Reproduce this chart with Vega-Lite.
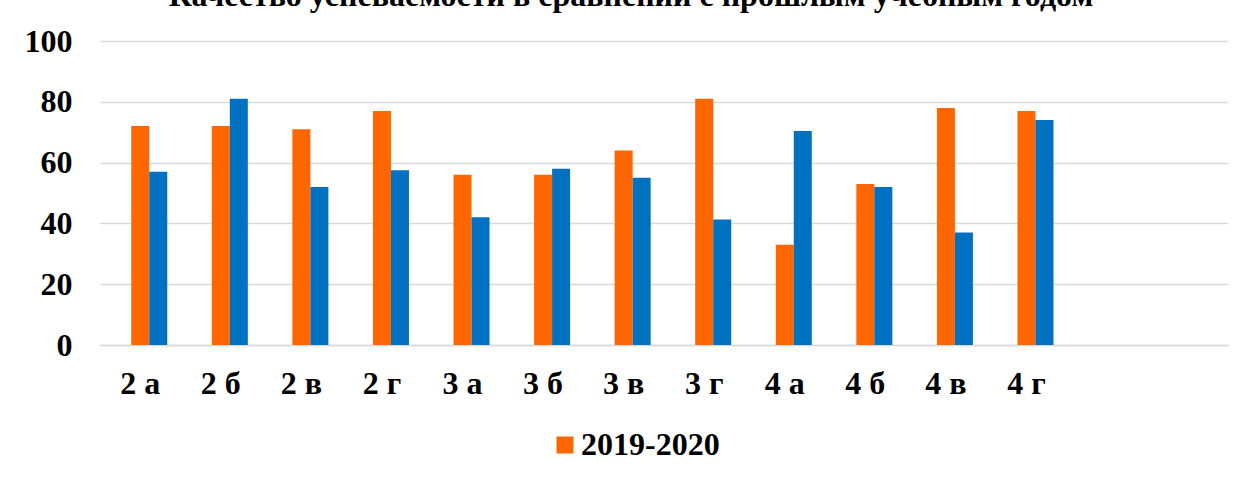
{
  "$schema": "https://vega.github.io/schema/vega-lite/v6.json",
  "autosize": {"type": "none"},
  "width": 1128,
  "height": 304,
  "padding": {"left": 100, "top": 41, "right": 21, "bottom": 133},
  "background": "white",
  "title": {
    "text": "Качество успеваемости в сравнении с прошлым учебным годом",
    "font": "Liberation Serif",
    "fontSize": 32,
    "fontWeight": "bold",
    "color": "#000000",
    "anchor": "middle",
    "baseline": "alphabetic",
    "offset": 0,
    "dx": -33,
    "dy": 13
  },
  "data": {
    "values": [
      {"class": "2 а", "year": "2019-2020", "value": 72},
      {"class": "2 а", "year": "2020-2021", "value": 57},
      {"class": "2 б", "year": "2019-2020", "value": 72},
      {"class": "2 б", "year": "2020-2021", "value": 81},
      {"class": "2 в", "year": "2019-2020", "value": 71},
      {"class": "2 в", "year": "2020-2021", "value": 52},
      {"class": "2 г", "year": "2019-2020", "value": 77},
      {"class": "2 г", "year": "2020-2021", "value": 57.5},
      {"class": "3 а", "year": "2019-2020", "value": 56},
      {"class": "3 а", "year": "2020-2021", "value": 42},
      {"class": "3 б", "year": "2019-2020", "value": 56},
      {"class": "3 б", "year": "2020-2021", "value": 58},
      {"class": "3 в", "year": "2019-2020", "value": 64},
      {"class": "3 в", "year": "2020-2021", "value": 55},
      {"class": "3 г", "year": "2019-2020", "value": 81},
      {"class": "3 г", "year": "2020-2021", "value": 41.3},
      {"class": "4 а", "year": "2019-2020", "value": 33},
      {"class": "4 а", "year": "2020-2021", "value": 70.4},
      {"class": "4 б", "year": "2019-2020", "value": 53},
      {"class": "4 б", "year": "2020-2021", "value": 52},
      {"class": "4 в", "year": "2019-2020", "value": 78},
      {"class": "4 в", "year": "2020-2021", "value": 37},
      {"class": "4 г", "year": "2019-2020", "value": 77},
      {"class": "4 г", "year": "2020-2021", "value": 74}
    ]
  },
  "mark": {"type": "bar"},
  "encoding": {
    "x": {
      "field": "class",
      "type": "nominal",
      "sort": null,
      "title": null,
      "scale": {
        "domain": ["2 а", "2 б", "2 в", "2 г", "3 а", "3 б", "3 в", "3 г", "4 а", "4 б", "4 в", "4 г", " ", "  "],
        "paddingInner": 0.553,
        "paddingOuter": 0.277,
        "align": 0.7
      },
      "axis": {
        "labelAngle": 0,
        "labelFont": "Liberation Serif",
        "labelFontSize": 32,
        "labelFontWeight": "bold",
        "labelColor": "#000000",
        "labelPadding": 23,
        "labelOffset": -9,
        "ticks": false,
        "domain": true,
        "domainColor": "#d9d9d9",
        "domainWidth": 1.5
      }
    },
    "xOffset": {"field": "year", "type": "nominal", "scale": {"paddingInner": 0, "paddingOuter": 0}},
    "y": {
      "field": "value",
      "type": "quantitative",
      "title": null,
      "scale": {"domain": [0, 100], "nice": false},
      "axis": {
        "values": [0, 20, 40, 60, 80, 100],
        "labelFont": "Liberation Serif",
        "labelFontSize": 32,
        "labelFontWeight": "bold",
        "labelColor": "#000000",
        "labelPadding": 28,
        "ticks": false,
        "domain": false,
        "grid": true,
        "gridColor": "#d9d9d9",
        "gridWidth": 1.5
      }
    },
    "color": {
      "field": "year",
      "type": "nominal",
      "scale": {"domain": ["2019-2020", "2020-2021"], "range": ["#ff6600", "#0070c0"]},
      "legend": {
        "values": ["2019-2020"],
        "title": null,
        "orient": "none",
        "legendX": 449,
        "legendY": 388,
        "padding": 0,
        "symbolType": "square",
        "symbolSize": 289,
        "symbolStrokeWidth": 0,
        "labelFont": "Liberation Serif",
        "labelFontSize": 32,
        "labelFontWeight": "bold",
        "labelColor": "#000000",
        "labelOffset": 0
      }
    }
  },
  "config": {
    "view": {"stroke": null}
  }
}
